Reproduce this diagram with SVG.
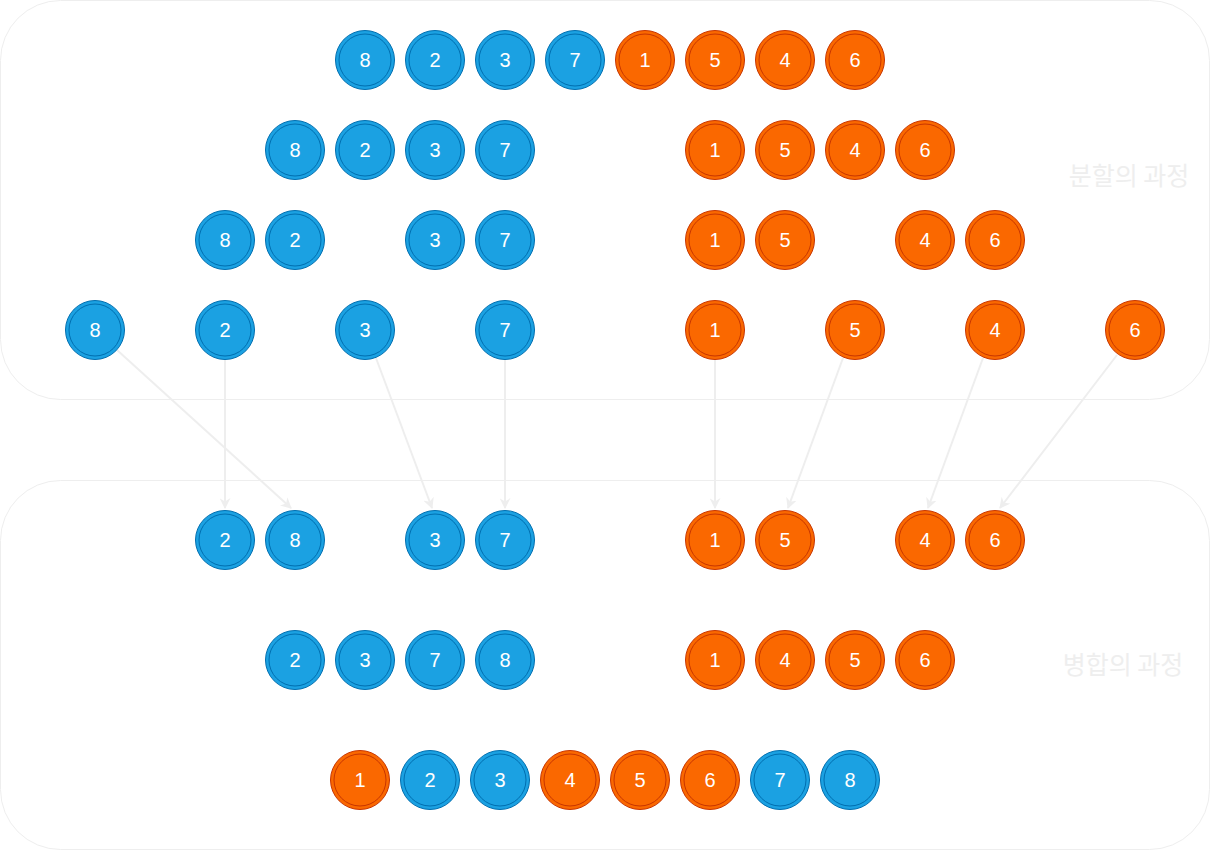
<svg xmlns="http://www.w3.org/2000/svg" width="1211" height="851" viewBox="0 0 1211 851">
<defs>
<style>
.b circle{fill:#1ba1e2;stroke:#006eaf;stroke-width:1}
.r circle{fill:#fa6800;stroke:#c73500;stroke-width:1}
circle.i{fill:none !important}
.n text{fill:#ffffff;font-family:"Liberation Sans",Arial,sans-serif;font-size:20px;text-anchor:middle;dominant-baseline:central}
.box{fill:none;stroke:#eeeeee;stroke-width:1}
.lbl{fill:#eeeeee;font-family:"Noto Sans CJK KR","Noto Sans",sans-serif;font-size:25px;text-anchor:middle;dominant-baseline:central}
.c{stroke:#eeeeee;stroke-width:2;fill:none;marker-end:url(#ah)}
</style>
<marker id="ah" viewBox="0 0 10 10" refX="9" refY="5" markerWidth="11" markerHeight="11" markerUnits="userSpaceOnUse" orient="auto">
<path d="M0,0 L10,5 L0,10 L3,5 Z" fill="#eeeeee"/>
</marker>
</defs>
<rect width="1211" height="851" fill="#ffffff"/>
<g id="containers">
<rect id="split-box" class="box" x="0.5" y="0.5" width="1209" height="399" rx="60" ry="60"/>
<rect id="merge-box" class="box" x="0.5" y="480.5" width="1209" height="369" rx="60" ry="60"/>
<text id="split-label" class="lbl" x="1129" y="174">분할의 과정</text>
<text id="merge-label" class="lbl" x="1123" y="663">병합의 과정</text>
</g>
<g id="connectors">
<path class="c" d="M117,350 L291,508"/>
<path class="c" d="M225,360 L225,508"/>
<path class="c" d="M376,358 L432,508"/>
<path class="c" d="M505,360 L505,508"/>
<path class="c" d="M715,360 L715,508"/>
<path class="c" d="M843,358 L788,508"/>
<path class="c" d="M983,358 L928,508"/>
<path class="c" d="M1117,355 L1000,508"/>
</g>
<g id="row1">
<g id="r1-8" class="n b" transform="translate(365,60)"><circle r="29.5"/><circle class="i" r="26"/><text>8</text></g>
<g id="r1-2" class="n b" transform="translate(435,60)"><circle r="29.5"/><circle class="i" r="26"/><text>2</text></g>
<g id="r1-3" class="n b" transform="translate(505,60)"><circle r="29.5"/><circle class="i" r="26"/><text>3</text></g>
<g id="r1-7" class="n b" transform="translate(575,60)"><circle r="29.5"/><circle class="i" r="26"/><text>7</text></g>
<g id="r1-1" class="n r" transform="translate(645,60)"><circle r="29.5"/><circle class="i" r="26"/><text>1</text></g>
<g id="r1-5" class="n r" transform="translate(715,60)"><circle r="29.5"/><circle class="i" r="26"/><text>5</text></g>
<g id="r1-4" class="n r" transform="translate(785,60)"><circle r="29.5"/><circle class="i" r="26"/><text>4</text></g>
<g id="r1-6" class="n r" transform="translate(855,60)"><circle r="29.5"/><circle class="i" r="26"/><text>6</text></g>
</g>
<g id="row2">
<g id="r2-8" class="n b" transform="translate(295,150)"><circle r="29.5"/><circle class="i" r="26"/><text>8</text></g>
<g id="r2-2" class="n b" transform="translate(365,150)"><circle r="29.5"/><circle class="i" r="26"/><text>2</text></g>
<g id="r2-3" class="n b" transform="translate(435,150)"><circle r="29.5"/><circle class="i" r="26"/><text>3</text></g>
<g id="r2-7" class="n b" transform="translate(505,150)"><circle r="29.5"/><circle class="i" r="26"/><text>7</text></g>
<g id="r2-1" class="n r" transform="translate(715,150)"><circle r="29.5"/><circle class="i" r="26"/><text>1</text></g>
<g id="r2-5" class="n r" transform="translate(785,150)"><circle r="29.5"/><circle class="i" r="26"/><text>5</text></g>
<g id="r2-4" class="n r" transform="translate(855,150)"><circle r="29.5"/><circle class="i" r="26"/><text>4</text></g>
<g id="r2-6" class="n r" transform="translate(925,150)"><circle r="29.5"/><circle class="i" r="26"/><text>6</text></g>
</g>
<g id="row3">
<g id="r3-8" class="n b" transform="translate(225,240)"><circle r="29.5"/><circle class="i" r="26"/><text>8</text></g>
<g id="r3-2" class="n b" transform="translate(295,240)"><circle r="29.5"/><circle class="i" r="26"/><text>2</text></g>
<g id="r3-3" class="n b" transform="translate(435,240)"><circle r="29.5"/><circle class="i" r="26"/><text>3</text></g>
<g id="r3-7" class="n b" transform="translate(505,240)"><circle r="29.5"/><circle class="i" r="26"/><text>7</text></g>
<g id="r3-1" class="n r" transform="translate(715,240)"><circle r="29.5"/><circle class="i" r="26"/><text>1</text></g>
<g id="r3-5" class="n r" transform="translate(785,240)"><circle r="29.5"/><circle class="i" r="26"/><text>5</text></g>
<g id="r3-4" class="n r" transform="translate(925,240)"><circle r="29.5"/><circle class="i" r="26"/><text>4</text></g>
<g id="r3-6" class="n r" transform="translate(995,240)"><circle r="29.5"/><circle class="i" r="26"/><text>6</text></g>
</g>
<g id="row4">
<g id="r4-8" class="n b" transform="translate(95,330)"><circle r="29.5"/><circle class="i" r="26"/><text>8</text></g>
<g id="r4-2" class="n b" transform="translate(225,330)"><circle r="29.5"/><circle class="i" r="26"/><text>2</text></g>
<g id="r4-3" class="n b" transform="translate(365,330)"><circle r="29.5"/><circle class="i" r="26"/><text>3</text></g>
<g id="r4-7" class="n b" transform="translate(505,330)"><circle r="29.5"/><circle class="i" r="26"/><text>7</text></g>
<g id="r4-1" class="n r" transform="translate(715,330)"><circle r="29.5"/><circle class="i" r="26"/><text>1</text></g>
<g id="r4-5" class="n r" transform="translate(855,330)"><circle r="29.5"/><circle class="i" r="26"/><text>5</text></g>
<g id="r4-4" class="n r" transform="translate(995,330)"><circle r="29.5"/><circle class="i" r="26"/><text>4</text></g>
<g id="r4-6" class="n r" transform="translate(1135,330)"><circle r="29.5"/><circle class="i" r="26"/><text>6</text></g>
</g>
<g id="row5">
<g id="r5-2" class="n b" transform="translate(225,540)"><circle r="29.5"/><circle class="i" r="26"/><text>2</text></g>
<g id="r5-8" class="n b" transform="translate(295,540)"><circle r="29.5"/><circle class="i" r="26"/><text>8</text></g>
<g id="r5-3" class="n b" transform="translate(435,540)"><circle r="29.5"/><circle class="i" r="26"/><text>3</text></g>
<g id="r5-7" class="n b" transform="translate(505,540)"><circle r="29.5"/><circle class="i" r="26"/><text>7</text></g>
<g id="r5-1" class="n r" transform="translate(715,540)"><circle r="29.5"/><circle class="i" r="26"/><text>1</text></g>
<g id="r5-5" class="n r" transform="translate(785,540)"><circle r="29.5"/><circle class="i" r="26"/><text>5</text></g>
<g id="r5-4" class="n r" transform="translate(925,540)"><circle r="29.5"/><circle class="i" r="26"/><text>4</text></g>
<g id="r5-6" class="n r" transform="translate(995,540)"><circle r="29.5"/><circle class="i" r="26"/><text>6</text></g>
</g>
<g id="row6">
<g id="r6-2" class="n b" transform="translate(295,660)"><circle r="29.5"/><circle class="i" r="26"/><text>2</text></g>
<g id="r6-3" class="n b" transform="translate(365,660)"><circle r="29.5"/><circle class="i" r="26"/><text>3</text></g>
<g id="r6-7" class="n b" transform="translate(435,660)"><circle r="29.5"/><circle class="i" r="26"/><text>7</text></g>
<g id="r6-8" class="n b" transform="translate(505,660)"><circle r="29.5"/><circle class="i" r="26"/><text>8</text></g>
<g id="r6-1" class="n r" transform="translate(715,660)"><circle r="29.5"/><circle class="i" r="26"/><text>1</text></g>
<g id="r6-4" class="n r" transform="translate(785,660)"><circle r="29.5"/><circle class="i" r="26"/><text>4</text></g>
<g id="r6-5" class="n r" transform="translate(855,660)"><circle r="29.5"/><circle class="i" r="26"/><text>5</text></g>
<g id="r6-6" class="n r" transform="translate(925,660)"><circle r="29.5"/><circle class="i" r="26"/><text>6</text></g>
</g>
<g id="row7">
<g id="r7-1" class="n r" transform="translate(360,780)"><circle r="29.5"/><circle class="i" r="26"/><text>1</text></g>
<g id="r7-2" class="n b" transform="translate(430,780)"><circle r="29.5"/><circle class="i" r="26"/><text>2</text></g>
<g id="r7-3" class="n b" transform="translate(500,780)"><circle r="29.5"/><circle class="i" r="26"/><text>3</text></g>
<g id="r7-4" class="n r" transform="translate(570,780)"><circle r="29.5"/><circle class="i" r="26"/><text>4</text></g>
<g id="r7-5" class="n r" transform="translate(640,780)"><circle r="29.5"/><circle class="i" r="26"/><text>5</text></g>
<g id="r7-6" class="n r" transform="translate(710,780)"><circle r="29.5"/><circle class="i" r="26"/><text>6</text></g>
<g id="r7-7" class="n b" transform="translate(780,780)"><circle r="29.5"/><circle class="i" r="26"/><text>7</text></g>
<g id="r7-8" class="n b" transform="translate(850,780)"><circle r="29.5"/><circle class="i" r="26"/><text>8</text></g>
</g>
</svg>
